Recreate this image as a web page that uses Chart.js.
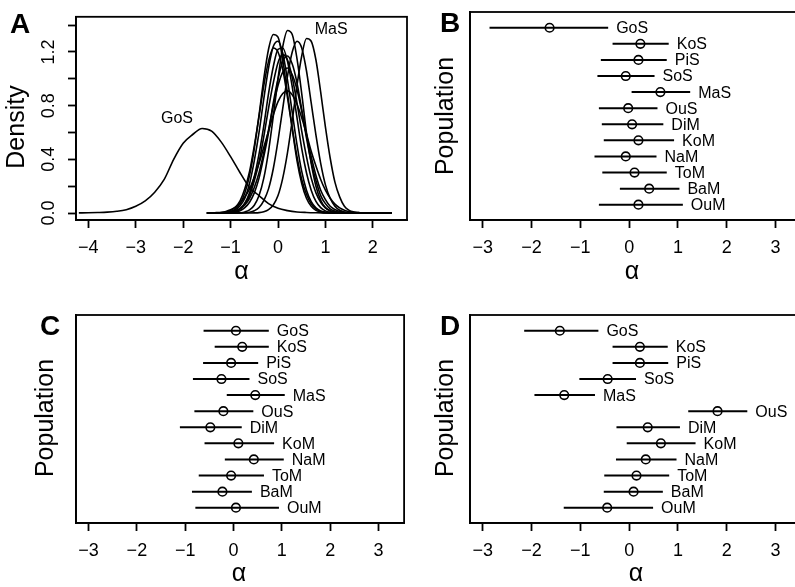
<!DOCTYPE html>
<html>
<head>
<meta charset="utf-8">
<script src="https://cdn.jsdelivr.net/npm/chart.js@4.4.0/dist/chart.umd.min.js"></script>
<style>
    html, body { margin: 0; padding: 0; background: #ffffff; width: 795px; height: 587px; overflow: hidden; }
    canvas { position: absolute; }
</style>
</head>
<body>
<canvas id="panelA" width="410" height="292" style="left:0px;top:0px"></canvas>
<canvas id="panelB" width="410" height="292" style="left:400px;top:0px"></canvas>
<canvas id="panelC" width="410" height="292" style="left:0px;top:295px"></canvas>
<canvas id="panelD" width="410" height="292" style="left:400px;top:295px"></canvas>
<script>
    // populations, top to bottom
    var popNames = ["GoS", "KoS", "PiS", "SoS", "MaS", "OuS", "DiM", "KoM", "NaM", "ToM", "BaM", "OuM"];
    var popY = [12, 11, 10, 9, 8, 7, 6, 5, 4, 3, 2, 1];

    // panel B
    var bLow  = [-2.86, -0.34, -0.58, -0.65, 0.05, -0.62, -0.56, -0.52, -0.71, -0.55, -0.19, -0.62];
    var bMean = [-1.63, 0.23, 0.19, -0.07, 0.64, -0.02, 0.06, 0.19, -0.07, 0.11, 0.41, 0.19];
    var bHigh = [-0.43, 0.81, 0.77, 0.52, 1.25, 0.58, 0.70, 0.92, 0.56, 0.77, 1.03, 1.10];

    // panel C
    var cLow  = [-0.62, -0.39, -0.63, -0.84, -0.14, -0.81, -1.11, -0.60, -0.18, -0.72, -0.86, -0.79];
    var cMean = [0.05, 0.18, -0.05, -0.25, 0.45, -0.21, -0.48, 0.10, 0.42, -0.05, -0.23, 0.05];
    var cHigh = [0.73, 0.73, 0.51, 0.33, 1.06, 0.41, 0.17, 0.84, 1.04, 0.63, 0.38, 0.94];

    // panel D
    var dLow  = [-2.15, -0.34, -0.34, -1.02, -1.94, 1.21, -0.26, -0.05, -0.27, -0.51, -0.52, -1.34];
    var dMean = [-1.42, 0.22, 0.22, -0.44, -1.33, 1.81, 0.38, 0.65, 0.34, 0.15, 0.09, -0.45];
    var dHigh = [-0.63, 0.79, 0.80, 0.14, -0.70, 2.42, 1.04, 1.36, 0.97, 0.82, 0.69, 0.49];

    // panel A: density curves
    var gosX = [-4.2, -4.0, -3.8, -3.6, -3.4, -3.2, -3.0, -2.8, -2.6, -2.4, -2.2, -2.0, -1.8, -1.6,
                -1.4, -1.2, -1.0, -0.8, -0.6, -0.4, -0.2, 0.0, 0.2, 0.4, 0.6, 0.8, 1.0, 1.2];
    var gosDens = [0.001, 0.002, 0.004, 0.007, 0.013, 0.025, 0.05, 0.09, 0.155, 0.25, 0.40, 0.52, 0.585, 0.63,
                   0.61, 0.53, 0.42, 0.30, 0.19, 0.13, 0.07, 0.035, 0.018, 0.008, 0.004, 0.002, 0.001, 0];

    var densX = [-1.5, -1.4, -1.3, -1.2, -1.1, -1.0, -0.9, -0.8, -0.7, -0.6,
                 -0.5, -0.4, -0.3, -0.2, -0.1, 0.0, 0.1, 0.2, 0.3, 0.4,
                 0.5, 0.6, 0.7, 0.8, 0.9, 1.0, 1.1, 1.2, 1.3, 1.4,
                 1.5, 1.6, 1.7, 1.8, 1.9, 2.0, 2.1, 2.2, 2.3, 2.4];
    var kosDens = [0, 0, 0, 0, 0, 0, 0, 0.002, 0.008, 0.023,
                   0.058, 0.13, 0.26, 0.46, 0.72, 1.00, 1.24, 1.36, 1.33, 1.15,
                   0.89, 0.60, 0.37, 0.20, 0.095, 0.04, 0.015, 0.005, 0, 0,
                   0, 0, 0, 0, 0, 0, 0, 0, 0, 0];
    var pisDens = [0, 0, 0, 0, 0, 0.002, 0.007, 0.017, 0.04, 0.08,
                   0.15, 0.26, 0.42, 0.60, 0.82, 1.00, 1.13, 1.17, 1.11, 0.97,
                   0.77, 0.56, 0.38, 0.24, 0.13, 0.07, 0.03, 0.014, 0.006, 0.002,
                   0, 0, 0, 0, 0, 0, 0, 0, 0, 0];
    var sosDens = [0, 0, 0, 0, 0.004, 0.011, 0.03, 0.07, 0.15, 0.28,
                   0.48, 0.73, 1.00, 1.22, 1.33, 1.31, 1.14, 0.89, 0.63, 0.39,
                   0.22, 0.11, 0.05, 0.02, 0.007, 0, 0, 0, 0, 0,
                   0, 0, 0, 0, 0, 0, 0, 0, 0, 0];
    var masDens = [0, 0, 0, 0, 0, 0, 0, 0, 0, 0,
                   0.001, 0.003, 0.01, 0.026, 0.06, 0.13, 0.26, 0.45, 0.69, 0.95,
                   1.17, 1.30, 1.28, 1.14, 0.90, 0.64, 0.41, 0.23, 0.12, 0.05,
                   0.02, 0.008, 0.003, 0, 0, 0, 0, 0, 0, 0];
    var ousDens = [0, 0, 0, 0, 0.003, 0.009, 0.023, 0.054, 0.11, 0.22,
                   0.39, 0.60, 0.85, 1.08, 1.24, 1.28, 1.19, 0.99, 0.75, 0.51,
                   0.31, 0.17, 0.085, 0.038, 0.015, 0.006, 0.002, 0, 0, 0,
                   0, 0, 0, 0, 0, 0, 0, 0, 0, 0];
    var dimDens = [0, 0, 0, 0, 0.001, 0.005, 0.014, 0.033, 0.073, 0.15,
                   0.27, 0.44, 0.65, 0.89, 1.09, 1.22, 1.23, 1.13, 0.94, 0.71,
                   0.48, 0.30, 0.17, 0.086, 0.04, 0.016, 0.006, 0.002, 0, 0,
                   0, 0, 0, 0, 0, 0, 0, 0, 0, 0];
    var komDens = [0, 0, 0, 0, 0.002, 0.006, 0.014, 0.03, 0.06, 0.11,
                   0.19, 0.30, 0.45, 0.62, 0.80, 0.95, 1.05, 1.08, 1.03, 0.92,
                   0.76, 0.58, 0.42, 0.28, 0.17, 0.10, 0.05, 0.026, 0.012, 0.005,
                   0.002, 0, 0, 0, 0, 0, 0, 0, 0, 0];
    var namDens = [0, 0, 0, 0.002, 0.007, 0.018, 0.043, 0.09, 0.18, 0.31,
                   0.50, 0.72, 0.95, 1.13, 1.23, 1.20, 1.07, 0.86, 0.63, 0.42,
                   0.25, 0.14, 0.068, 0.03, 0.012, 0.005, 0, 0, 0, 0,
                   0, 0, 0, 0, 0, 0, 0, 0, 0, 0];
    var tomDens = [0, 0, 0, 0, 0.002, 0.006, 0.014, 0.033, 0.07, 0.13,
                   0.24, 0.38, 0.57, 0.78, 0.97, 1.12, 1.18, 1.14, 1.01, 0.82,
                   0.61, 0.42, 0.26, 0.15, 0.08, 0.038, 0.017, 0.007, 0.002, 0,
                   0, 0, 0, 0, 0, 0, 0, 0, 0, 0];
    var bamDens = [0, 0, 0, 0, 0, 0, 0, 0.001, 0.002, 0.006,
                   0.017, 0.041, 0.093, 0.18, 0.33, 0.54, 0.78, 1.02, 1.20, 1.28,
                   1.23, 1.06, 0.82, 0.58, 0.37, 0.21, 0.11, 0.05, 0.021, 0.008,
                   0.003, 0, 0, 0, 0, 0, 0, 0, 0, 0];
    var oumDens = [0, 0, 0.003, 0.006, 0.012, 0.024, 0.043, 0.073, 0.12, 0.18,
                   0.27, 0.37, 0.49, 0.61, 0.73, 0.83, 0.89, 0.91, 0.88, 0.81,
                   0.71, 0.59, 0.46, 0.35, 0.25, 0.17, 0.11, 0.066, 0.038, 0.021,
                   0.011, 0.005, 0.003, 0, 0, 0, 0, 0, 0, 0];
    var densCurves = [kosDens, pisDens, sosDens, masDens, ousDens, dimDens, komDens, namDens, tomDens, bamDens, oumDens];

    // curve labels in panel A (data units)
    var curveLabels = ["GoS", "MaS"];
    var curveLabelX = [-2.13, 1.12];
    var curveLabelY = [0.70, 1.37];

    var fontFamily = "'Liberation Sans', Arial, Helvetica, sans-serif";
    Chart.defaults.font.family = fontFamily;
    Chart.defaults.color = "#000000";

    function minusSign(v) {
        return String(v).replace("-", "\u2212");
    }

    function tickGrid() {
        return { drawOnChartArea: false, drawTicks: true, tickLength: 8, tickWidth: 1.8, tickColor: "#000000" };
    }

    function xAxis(min, max, height) {
        return {
            type: "linear",
            position: "bottom",
            min: min,
            max: max,
            ticks: {
                stepSize: 1, includeBounds: false, autoSkip: false, maxRotation: 0,
                padding: 9, color: "#000000", font: { size: 18 },
                callback: function (v) { return minusSign(v); }
            },
            grid: tickGrid(),
            border: { display: true, color: "#000000", width: 1.8 },
            afterFit: function (s) { s.height = height; }
        };
    }

    // letter, axis titles, frame
    function decorPlugin(letter, letterX, letterY, yTitle, yTitleX, yTitleY, alphaX, alphaY) {
        return {
            id: "decor",
            afterDraw: function (chart) {
                var ctx = chart.ctx;
                var a = chart.chartArea;
                ctx.save();
                ctx.strokeStyle = "#000000";
                ctx.lineWidth = 1.8;
                ctx.strokeRect(a.left, a.top, a.right - a.left, a.bottom - a.top);

                ctx.fillStyle = "#000000";
                ctx.font = "bold 28px " + fontFamily;
                ctx.textAlign = "left";
                ctx.textBaseline = "alphabetic";
                ctx.fillText(letter, letterX, letterY);

                ctx.font = "25px " + fontFamily;
                ctx.textAlign = "center";
                ctx.fillText("\u03b1", alphaX, alphaY);

                ctx.translate(yTitleX, yTitleY);
                ctx.rotate(-Math.PI / 2);
                ctx.textBaseline = "middle";
                ctx.fillText(yTitle, 0, 0);
                ctx.restore();
            }
        };
    }

    // population names to the right of each interval
    function namePlugin(high) {
        return {
            id: "names",
            afterDatasetsDraw: function (chart) {
                var ctx = chart.ctx;
                var xs = chart.scales.x;
                var ys = chart.scales.y;
                ctx.save();
                ctx.fillStyle = "#000000";
                ctx.font = "16px " + fontFamily;
                ctx.textAlign = "left";
                ctx.textBaseline = "middle";
                for (var i = 0; i < popNames.length; i++) {
                    ctx.fillText(popNames[i], xs.getPixelForValue(high[i]) + 8, ys.getPixelForValue(popY[i]) + 1);
                }
                ctx.restore();
            }
        };
    }

    function curveLabelPlugin() {
        return {
            id: "curveLabels",
            afterDatasetsDraw: function (chart) {
                var ctx = chart.ctx;
                ctx.save();
                ctx.fillStyle = "#000000";
                ctx.font = "16px " + fontFamily;
                ctx.textAlign = "center";
                ctx.textBaseline = "middle";
                for (var i = 0; i < curveLabels.length; i++) {
                    ctx.fillText(curveLabels[i], chart.scales.x.getPixelForValue(curveLabelX[i]),
                        chart.scales.y.getPixelForValue(curveLabelY[i]));
                }
                ctx.restore();
            }
        };
    }

    function generateDensityPanel() {
        var datasets = [];
        datasets.push({
            data: gosX.map(function (x, i) { return { x: x, y: gosDens[i] }; }),
            showLine: true, borderColor: "#000000", borderWidth: 1.6, pointRadius: 0,
            cubicInterpolationMode: "monotone"
        });
        for (var k = 0; k < densCurves.length; k++) {
            var curve = densCurves[k];
            datasets.push({
                data: densX.map(function (x, i) { return { x: x, y: curve[i] }; }),
                showLine: true, borderColor: "#000000", borderWidth: 1.6, pointRadius: 0,
                cubicInterpolationMode: "monotone"
            });
        }

        new Chart(document.getElementById("panelA"), {
            type: "scatter",
            data: { datasets: datasets },
            options: {
                responsive: false,
                animation: false,
                events: [],
                layout: { padding: { top: 12, right: 3, left: 0, bottom: 0 } },
                plugins: { legend: { display: false }, tooltip: { enabled: false } },
                scales: {
                    x: xAxis(-4.26, 2.72, 72),
                    y: {
                        type: "linear",
                        min: -0.052,
                        max: 1.462,
                        ticks: {
                            stepSize: 0.2, includeBounds: false, autoSkip: false,
                            minRotation: 90, maxRotation: 90, crossAlign: "center",
                            padding: 6, color: "#000000", font: { size: 18 },
                            callback: function (v) { return Math.round(v * 10) % 4 === 0 ? v.toFixed(1) : ""; }
                        },
                        grid: tickGrid(),
                        border: { display: true, color: "#000000", width: 1.8 },
                        afterFit: function (s) { s.width = 76; }
                    }
                }
            },
            plugins: [curveLabelPlugin(), decorPlugin("A", 10, 33, "Density", 17, 127, 241.5, 279)]
        });
    }

    function generateIntervalPanel(canvasId, letter, low, mean, high, yWidth, padTop, padRight, xHeight, alphaX, alphaY, titleY) {
        var datasets = [];
        for (var i = 0; i < popNames.length; i++) {
            datasets.push({
                data: [{ x: low[i], y: popY[i] }, { x: high[i], y: popY[i] }],
                showLine: true, borderColor: "#000000", borderWidth: 2, pointRadius: 0
            });
        }
        datasets.push({
            data: mean.map(function (m, i) { return { x: m, y: popY[i] }; }),
            showLine: false, pointRadius: 4.3, pointBorderWidth: 1.6,
            pointBorderColor: "#000000", pointBackgroundColor: "rgba(0,0,0,0)"
        });

        new Chart(document.getElementById(canvasId), {
            type: "scatter",
            data: { datasets: datasets },
            options: {
                responsive: false,
                animation: false,
                events: [],
                layout: { padding: { top: padTop, right: padRight, left: 0, bottom: 0 } },
                plugins: { legend: { display: false }, tooltip: { enabled: false } },
                scales: {
                    x: xAxis(-3.26, 3.53, xHeight),
                    y: {
                        type: "linear",
                        min: 0.05,
                        max: 12.98,
                        ticks: { display: false },
                        grid: { display: false },
                        border: { display: true, color: "#000000", width: 1.8 },
                        afterFit: function (s) { s.width = yWidth; }
                    }
                }
            },
            plugins: [namePlugin(high), decorPlugin(letter, 40, letter === "B" ? 32 : 40, "Population", 46, titleY, alphaX, alphaY)]
        });
    }

    generateDensityPanel();
    generateIntervalPanel("panelB", "B", bLow, bMean, bHigh, 70, 12, 8.5, 72, 232, 279, 116);
    generateIntervalPanel("panelC", "C", cLow, cMean, cHigh, 76, 20, 3, 64, 239, 286, 123);
    generateIntervalPanel("panelD", "D", dLow, dMean, dHigh, 70, 20, 8.5, 64, 236, 286, 123);
</script>
</body>
</html>
